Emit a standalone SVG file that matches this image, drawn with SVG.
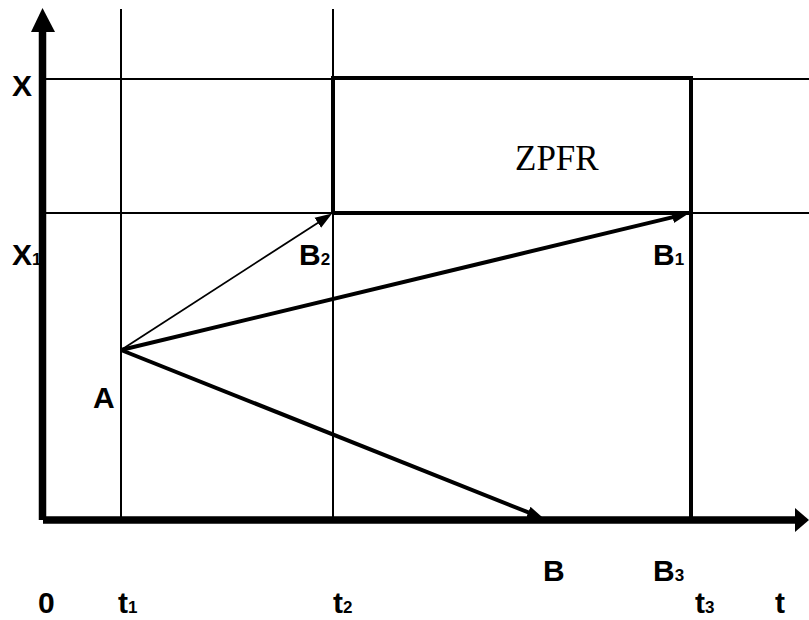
<svg xmlns="http://www.w3.org/2000/svg" width="809" height="620" viewBox="0 0 809 620">
<style>
.grid{stroke:#000;stroke-width:2;fill:none}
.thick{stroke:#000;stroke-width:4;fill:none}
.axis{stroke:#000;stroke-width:7.5;fill:none}
.lbl{font-family:"Liberation Sans",Arial,sans-serif;font-weight:bold;font-size:30px;fill:#000}
.sub{font-size:17px}
.zp{font-family:"Liberation Serif","Times New Roman",serif;font-size:35px;fill:#000}
</style>
<defs>
<marker id="ah" markerUnits="userSpaceOnUse" markerWidth="18" markerHeight="14" viewBox="0 0 18 14" refX="9" refY="7" orient="auto">
<path d="M0,1 L17,7 L0,13 Z" fill="#000"/>
</marker>
</defs>
<rect width="809" height="620" fill="#fff"/>
<g id="grid">
<line class="grid" x1="121" y1="9" x2="121" y2="518"/>
<line class="grid" x1="333" y1="9" x2="333" y2="518"/>
<line class="grid" x1="43" y1="79" x2="809" y2="79"/>
<line class="grid" x1="43" y1="213" x2="809" y2="213"/>
</g>
<g id="zpfr">
<polyline class="thick" points="333,213 333,78 691,78 691,518"/>
<line class="thick" x1="333" y1="213" x2="691" y2="213"/>
<text class="zp" x="515" y="170">ZPFR</text>
</g>
<g id="axes">
<line class="axis" x1="42.5" y1="520" x2="42.5" y2="28"/>
<polygon points="42.5,8 31,32 55,32" fill="#000"/>
<line class="axis" x1="43" y1="520" x2="797" y2="520"/>
<polygon points="809,520 795,508 795,532" fill="#000"/>
</g>
<g id="connectors">
<line x1="121" y1="350" x2="325.4" y2="217.9" stroke="#000" stroke-width="1.8" marker-end="url(#ah)"/>
<line x1="121" y1="350" x2="681.3" y2="215.1" stroke="#000" stroke-width="4" marker-end="url(#ah)"/>
<line x1="121" y1="350" x2="536.6" y2="515.7" stroke="#000" stroke-width="4" marker-end="url(#ah)"/>
</g>
<g id="labels">
<text class="lbl" x="12" y="96">X</text>
<text class="lbl" x="12" y="265">X<tspan class="sub">1</tspan></text>
<text class="lbl" x="299" y="265">B<tspan class="sub">2</tspan></text>
<text class="lbl" x="653" y="265">B<tspan class="sub">1</tspan></text>
<text class="lbl" x="93" y="408">A</text>
<text class="lbl" x="543" y="581">B</text>
<text class="lbl" x="653" y="581">B<tspan class="sub">3</tspan></text>
<text class="lbl" x="38" y="613">0</text>
<text class="lbl" x="118" y="613">t<tspan class="sub">1</tspan></text>
<text class="lbl" x="333" y="613">t<tspan class="sub">2</tspan></text>
<text class="lbl" x="695" y="613">t<tspan class="sub">3</tspan></text>
<text class="lbl" x="775" y="613">t</text>
</g>
</svg>
